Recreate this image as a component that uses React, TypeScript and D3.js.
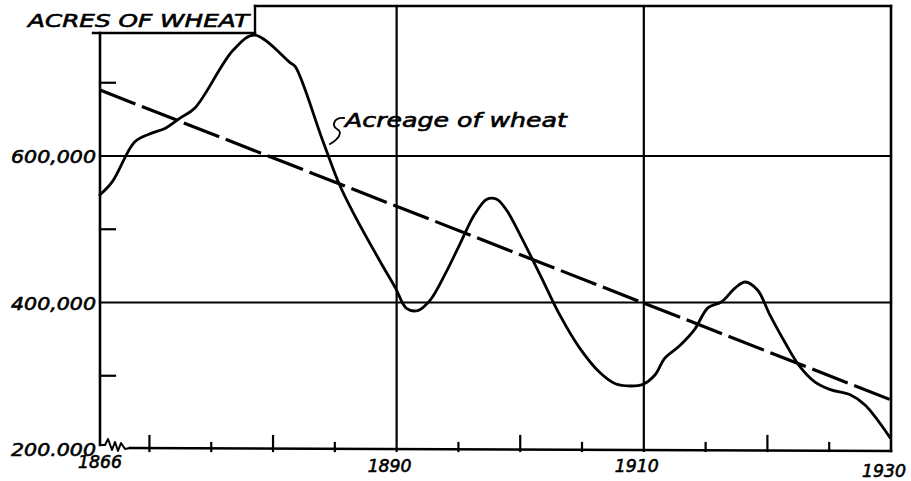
import React from "react";
import * as d3 from "d3";

// ---- data ----
const years = [
  1866.0, 1867.0, 1868.8, 1870.0, 1871.3, 1872.5, 1873.7, 1876.8, 1878.5, 1881.4,
  1881.8, 1884.0, 1885.4, 1886.6, 1888.7, 1889.9, 1890.8, 1891.7, 1892.7, 1893.9,
  1895.1, 1896.3, 1897.3, 1898.1, 1898.9, 1900.0, 1901.6, 1903.2, 1904.8, 1906.4,
  1907.7, 1908.9, 1909.9, 1910.9, 1911.7, 1912.9, 1914.1, 1915.2, 1916.3, 1917.4,
  1918.2, 1919.2, 1920.2, 1921.4, 1922.6, 1923.8, 1925.1, 1926.7, 1927.9, 1929.9,
];
const acres = [
  547000, 565000, 619000, 630000, 638000, 652000, 666000, 745000, 765000, 727000,
  722000, 622000, 560000, 519000, 455000, 420000, 392000, 389000, 403000, 438000,
  479000, 520000, 541000, 541000, 526000, 492000, 438000, 383000, 338000, 305000,
  289000, 286000, 288000, 301000, 324000, 341000, 363000, 393000, 401000, 420000,
  428000, 417000, 383000, 346000, 313000, 292000, 281000, 274000, 260000, 216000,
];
const trendYears = [1866, 1930];
const trendValues = [690000, 267000];

const gridYears = [1890, 1910];
const longTickYears = [1870, 1880, 1900, 1920];
const shortTickYears = [1875, 1885, 1895, 1905, 1915, 1925];
const xLabels = ["1866", "1890", "1910", "1930"];
const xLabelYears = [1866, 1890, 1910, 1930];
const gridValues = [400000, 600000];
const yTickValues = [300000, 500000, 700000];
const yLabels = ["200.000", "400,000", "600,000"];
const yLabelValues = [200000, 400000, 600000];
const title = "ACRES OF WHEAT";
const annotation = "Acreage of wheat";

export default function App() {
  const x = d3.scaleLinear().domain([1866, 1930]).range([100, 891]);
  const y = d3.scaleLinear().domain([200000, 800000]).range([449, 9.5]);
  const left = x(1866);
  const right = x(1930);
  const top = 6;
  const bottom = 451;
  const boxBottom = 33;
  const boxRight = 255;

  const line = d3
    .line<number>()
    .x((_, i) => x(years[i]))
    .y((d) => y(d))
    .curve(d3.curveCatmullRom.alpha(0.5));
  const trend = d3
    .line<number>()
    .x((_, i) => x(trendYears[i]))
    .y((d) => y(d));

  const font = "'DejaVu Sans', Verdana, sans-serif";
  const zig = `M${left},${bottom - 6} L${left + 5},${bottom - 6} L${left + 8},${bottom - 12} L${left + 12},${bottom - 1} L${left + 15},${bottom - 9} L${left + 18},${bottom} L${left + 21},${bottom - 8} L${left + 25},${bottom - 2} L${left + 30},${bottom - 3}`;

  return (
    <svg
      width={911}
      height={481}
      style={{ position: "absolute", left: 0, top: 0, background: "#fff" }}
    >
      <rect x={0} y={0} width={911} height={481} fill="#fff" />
      <g stroke="#000" fill="none" strokeLinecap="square">
        {/* frame */}
        <line x1={left - 7} y1={boxBottom} x2={boxRight} y2={boxBottom} strokeWidth={2.4} />
        <line x1={boxRight} y1={top} x2={boxRight} y2={boxBottom} strokeWidth={2.4} />
        <line x1={boxRight} y1={top} x2={right} y2={top} strokeWidth={2.4} />
        <line x1={right} y1={top} x2={right} y2={bottom} strokeWidth={2.6} />
        <line x1={left} y1={boxBottom} x2={left} y2={bottom - 6} strokeWidth={2.6} />
        <path d={zig} strokeWidth={2} strokeLinejoin="round" />
        <line x1={left + 30} y1={bottom - 3} x2={right} y2={bottom} strokeWidth={2.6} />
        {/* gridlines */}
        {gridYears.map((g) => (
          <line key={g} x1={x(g)} y1={top} x2={x(g)} y2={bottom} strokeWidth={2.2} />
        ))}
        {gridValues.map((v) => (
          <line key={v} x1={left} y1={y(v)} x2={right} y2={y(v)} strokeWidth={2.2} />
        ))}
        {/* ticks */}
        {longTickYears.map((t) => (
          <line key={t} x1={x(t)} y1={bottom} x2={x(t)} y2={bottom - 15} strokeWidth={2.2} />
        ))}
        {shortTickYears.map((t) => (
          <line key={t} x1={x(t)} y1={bottom} x2={x(t)} y2={bottom - 8} strokeWidth={2.2} />
        ))}
        {yTickValues.map((v) => (
          <line key={v} x1={left} y1={y(v)} x2={left + 15} y2={y(v)} strokeWidth={2.2} />
        ))}
        {/* trend */}
        <path
          d={trend(trendValues) || ""}
          strokeWidth={3.2}
          strokeDasharray="38 7"
          strokeLinecap="butt"
        />
        {/* acreage curve */}
        <path d={line(acres) || ""} strokeWidth={2.8} strokeLinejoin="round" />
        {/* annotation leader */}
        <path
          d="M344,118 C334,117 331,126 337,129 C344,133 337,140 330,144"
          strokeWidth={1.8}
        />
      </g>
      <g fontFamily={font} fontStyle="italic" fill="#000" stroke="#000" strokeWidth={0.6}>
        <text x={28} y={27} fontSize={18} textLength={221} lengthAdjust="spacingAndGlyphs">
          {title}
        </text>
        <text x={345} y={127} fontSize={19} textLength={222} lengthAdjust="spacingAndGlyphs">
          {annotation}
        </text>
        {yLabels.map((lab, i) => (
          <text
            key={lab}
            x={96}
            y={y(yLabelValues[i]) + 7}
            fontSize={18}
            textAnchor="end"
            textLength={85}
            lengthAdjust="spacingAndGlyphs"
          >
            {lab}
          </text>
        ))}
        {xLabels.map((lab, i) => (
          <text
            key={lab}
            x={x(xLabelYears[i]) - (i === 0 ? 0 : 7)}
            y={i === 3 ? 477 : i === 0 ? 468 : 472}
            fontSize={17}
            textAnchor="middle"
            textLength={44}
            lengthAdjust="spacingAndGlyphs"
          >
            {lab}
          </text>
        ))}
      </g>
    </svg>
  );
}
